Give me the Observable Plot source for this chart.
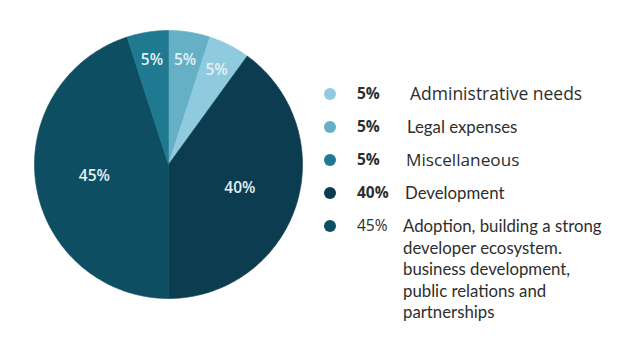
<!DOCTYPE html>
<html>
<head>
<meta charset="utf-8">
<script src="https://cdn.jsdelivr.net/npm/d3@7"></script>
<script src="https://cdn.jsdelivr.net/npm/@observablehq/plot@0.6"></script>
<style>
  html, body { margin: 0; padding: 0; background: #ffffff; }
  #wrap { position: relative; width: 640px; height: 356px; overflow: hidden; font-family: "Open Sans", sans-serif; }
  #chart { position: absolute; left: 0; top: 0; }
  #legend { position: absolute; left: 324px; top: 83px; color: #2e2e2e; }
  .row { display: flex; align-items: flex-start; line-height: 21.5px; margin-bottom: 11.5px; }
  .dot { width: 12px; height: 12px; border-radius: 50%; margin-top: 5px; flex: none; }
  .pct { width: 48px; margin-left: 21px; font-size: 15.5px; flex: none; }
  .lab { width: 205px; white-space: normal; }
</style>
</head>
<body>
<div id="wrap">
  <div id="chart"></div>
  <div id="legend"></div>
</div>
<script>
// ---- data (legend order) ----
const categories = ["Administrative needs", "Legal expenses", "Miscellaneous", "Development",
  "Adoption, building a strong developer ecosystem. business development, public relations and partnerships"];
const shortNames = ["Admin", "Legal", "Misc", "Development", "Adoption"];
const values = [5, 5, 5, 40, 45];
const colors = ["#8fcadf", "#66b0c6", "#1f7991", "#0c3c4f", "#0d4e63"];
// clockwise order of slices starting at 12 o'clock
const pieOrder = ["Legal", "Admin", "Development", "Adoption", "Misc"];
// legend percent label weight (as in the picture)
const pctBold = [true, true, true, true, false];

// ---- legend label typography (styles only) ----
const labelStyles = [
  { font: "'Open Sans', sans-serif", size: "17.5px", ml: "5px" },
  { font: "Lato, sans-serif", size: "16.8px", ml: "2px" },
  { font: "'Open Sans', sans-serif", size: "17.2px", ml: "1px" },
  { font: "Lato, sans-serif", size: "16.8px", ml: "0px" },
  { font: "Lato, sans-serif", size: "16.8px", ml: "-2px" }
];

// ---- build slice geometry from values ----
const rows = pieOrder.map(n => {
  const i = shortNames.indexOf(n);
  return { name: n, value: values[i], label: values[i] + "%" };
});
const arcs = d3.pie().sort(null).value(d => d.value)(rows);

const poly = [];
const labels = [];
arcs.forEach(a => {
  const n = a.data.name;
  poly.push({ name: n, x: 0, y: 0 });
  const steps = Math.max(4, Math.ceil((a.endAngle - a.startAngle) / (Math.PI / 180)));
  for (let k = 0; k <= steps; k++) {
    const t = a.startAngle + (a.endAngle - a.startAngle) * k / steps;
    poly.push({ name: n, x: Math.sin(t), y: Math.cos(t) });
  }
  poly.push({ name: n, x: 0, y: 0 });
  const mid = (a.startAngle + a.endAngle) / 2;
  const lr = a.data.value >= 20 ? 0.56 : 0.79;
  labels.push({ name: n, x: lr * Math.sin(mid), y: lr * Math.cos(mid), text: a.data.label });
});

const chart = Plot.plot({
  width: 640,
  height: 356,
  marginLeft: 34,
  marginRight: 338,
  marginTop: 30,
  marginBottom: 58,
  x: { domain: [-1, 1], axis: null },
  y: { domain: [-1, 1], axis: null },
  color: { type: "ordinal", domain: shortNames, range: colors },
  style: { fontFamily: "Open Sans, sans-serif", background: "transparent" },
  marks: [
    Plot.line(poly, { x: "x", y: "y", z: "name", fill: "name", stroke: "name", strokeWidth: 0.6, curve: "linear" }),
    Plot.text(labels, { x: "x", y: "y", text: "text", fill: "#e2f0f4", fontSize: 15.5, fontWeight: 600 })
  ]
});
document.getElementById("chart").appendChild(chart);

// ---- legend ----
const legend = document.getElementById("legend");
categories.forEach((c, i) => {
  const row = document.createElement("div");
  row.className = "row";
  const dot = document.createElement("div");
  dot.className = "dot";
  dot.style.background = colors[i];
  const pct = document.createElement("div");
  pct.className = "pct";
  pct.textContent = values[i] + "%";
  pct.style.fontWeight = pctBold[i] ? "700" : "400";
  const lab = document.createElement("div");
  lab.className = "lab";
  lab.textContent = c;
  lab.style.fontFamily = labelStyles[i].font;
  lab.style.fontSize = labelStyles[i].size;
  lab.style.marginLeft = labelStyles[i].ml;
  row.appendChild(dot); row.appendChild(pct); row.appendChild(lab);
  legend.appendChild(row);
});
</script>
</body>
</html>
